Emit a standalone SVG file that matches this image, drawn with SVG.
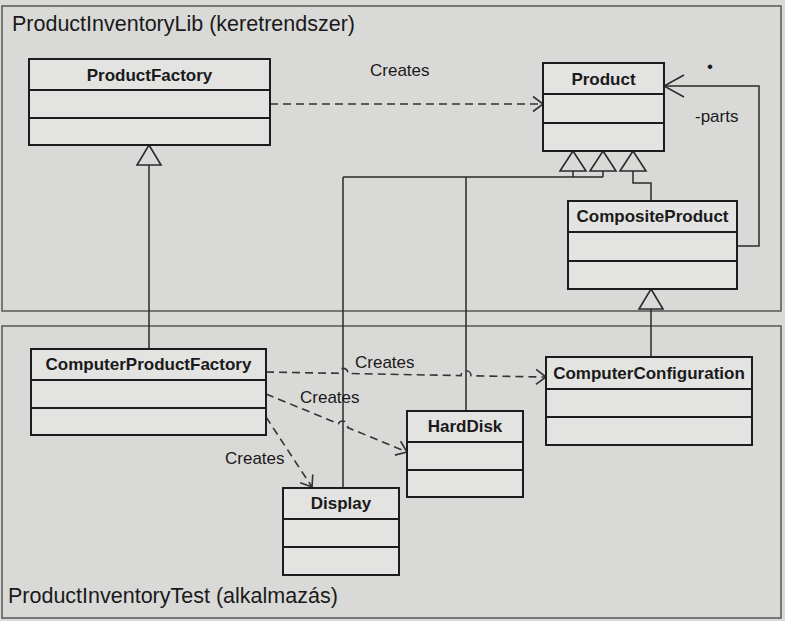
<svg xmlns="http://www.w3.org/2000/svg" width="785" height="621" viewBox="0 0 785 621">
<style>
.cls rect{fill:#e3e3e1;stroke:#1c1c1c;stroke-width:2}
.cls line{stroke:#1c1c1c;stroke-width:2}
.cn{font-family:"Liberation Sans",Arial,sans-serif;font-weight:bold;font-size:17px;fill:#1a1a1a;text-anchor:middle}
.lbl{font-family:"Liberation Sans",Arial,sans-serif;font-size:17px;fill:#1a1a1a}
.pkg{fill:none;stroke:#555;stroke-width:1.5}
.ptitle{font-family:"Liberation Sans",Arial,sans-serif;font-size:21.5px;fill:#1a1a1a}
.gen{fill:none;stroke:#2a2a2a;stroke-width:1.5}
.tri{fill:#dadad8;stroke:#2a2a2a;stroke-width:1.6}
.dep{fill:none;stroke:#333;stroke-width:1.6;stroke-dasharray:8 5;marker-end:url(#open)}
</style>
<defs>
<marker id="open" viewBox="-12 -9 14 18" refX="0" refY="0" markerWidth="14" markerHeight="18" markerUnits="userSpaceOnUse" orient="auto">
<path d="M-10,-7.5 L0,0 L-10,7.5" fill="none" stroke="#333" stroke-width="1.6"/>
</marker>
</defs>
<rect x="0" y="0" width="785" height="621" fill="#d9d9d7"/>
<g id="pkg-lib">
<rect class="pkg" x="2" y="6" width="779" height="305"/>
<text class="ptitle" x="12" y="31">ProductInventoryLib (keretrendszer)</text>
</g>
<g id="pkg-test">
<rect class="pkg" x="2" y="326" width="779" height="292"/>
<text class="ptitle" x="8" y="603">ProductInventoryTest (alkalmazás)</text>
</g>
<g id="connectors">
<path class="gen" d="M149,165 V349"/>
<path class="tri" d="M149,145 L161,165 L137,165 Z"/>
<path class="gen" d="M573,171 V177 M603,171 V177 M343,177 H603 M343,177 V488 M466,177 V411"/>
<path class="gen" d="M633,171 V183 H651 V201"/>
<path class="tri" d="M573,151 L586,171 L560,171 Z"/>
<path class="tri" d="M603,151 L616,171 L590,171 Z"/>
<path class="tri" d="M633,151 L646,171 L620,171 Z"/>
<path class="gen" d="M651,309 V357"/>
<path class="tri" d="M651,289 L663,309 L639,309 Z"/>
<path class="gen" d="M737,246 H759 V86 H664"/>
<path class="gen" d="M684,75 L664,86 L684,97"/>
<path class="dep" d="M270,104 H543"/>
<path class="dep" d="M266,372 L338,373.3 A5,5 0 0 1 348,373.5 L461,375.6 A5,5 0 0 1 471,375.8 L546,377"/>
<path class="dep" d="M266,394 L338.4,423.7 A5,5 0 0 1 347.6,427.5 L407,452"/>
<path class="dep" d="M266,417 L312,487"/>
<text class="lbl" x="370" y="76">Creates</text>
<text class="lbl" x="355" y="368">Creates</text>
<text class="lbl" x="300" y="403">Creates</text>
<text class="lbl" x="225" y="464">Creates</text>
<text class="lbl" x="695" y="122">-parts</text>
<text class="lbl" x="707" y="72" font-size="10">•</text>
</g>
<g id="ProductFactory" class="cls">
<rect x="29" y="59" width="241" height="86"/>
<line x1="29" y1="90" x2="270" y2="90"/><line x1="29" y1="118" x2="270" y2="118"/>
<text class="cn" x="149.5" y="81">ProductFactory</text>
</g>
<g id="Product" class="cls">
<rect x="543" y="63" width="121" height="88"/>
<line x1="543" y1="94" x2="664" y2="94"/><line x1="543" y1="123" x2="664" y2="123"/>
<text class="cn" x="603.5" y="85">Product</text>
</g>
<g id="CompositeProduct" class="cls">
<rect x="568" y="201" width="169" height="88"/>
<line x1="568" y1="232" x2="737" y2="232"/><line x1="568" y1="261" x2="737" y2="261"/>
<text class="cn" x="652.5" y="222">CompositeProduct</text>
</g>
<g id="ComputerProductFactory" class="cls">
<rect x="31" y="349" width="235" height="86"/>
<line x1="31" y1="380" x2="266" y2="380"/><line x1="31" y1="408" x2="266" y2="408"/>
<text class="cn" x="148.5" y="370">ComputerProductFactory</text>
</g>
<g id="ComputerConfiguration" class="cls">
<rect x="546" y="357" width="206" height="88"/>
<line x1="546" y1="389" x2="752" y2="389"/><line x1="546" y1="417" x2="752" y2="417"/>
<text class="cn" x="649" y="379">ComputerConfiguration</text>
</g>
<g id="HardDisk" class="cls">
<rect x="407" y="411" width="116" height="86"/>
<line x1="407" y1="442" x2="523" y2="442"/><line x1="407" y1="470" x2="523" y2="470"/>
<text class="cn" x="465" y="432">HardDisk</text>
</g>
<g id="Display" class="cls">
<rect x="283" y="488" width="116" height="87"/>
<line x1="283" y1="519" x2="399" y2="519"/><line x1="283" y1="547" x2="399" y2="547"/>
<text class="cn" x="341" y="509">Display</text>
</g>
</svg>
